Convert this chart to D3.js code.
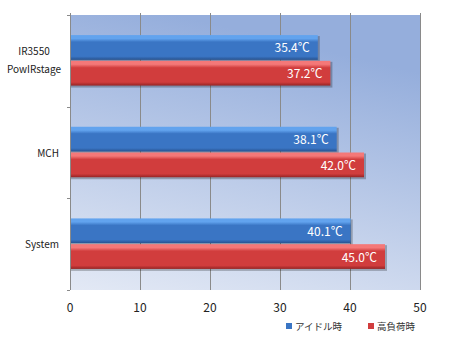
<!DOCTYPE html>
<html>
<head>
<meta charset="utf-8">
<script src="https://cdn.jsdelivr.net/npm/d3@7"></script>
<style>
  body { margin: 0; background: #fff; }
  text { font-family: "Noto Sans CJK JP", "DejaVu Sans", sans-serif; }
</style>
</head>
<body>
<script>
// data
var categories = ["IR3550\nPowIRstage", "MCH", "System"];
var seriesNames = ["アイドル時", "高負荷時"];
var idle = [35.4, 38.1, 40.1];
var load = [37.2, 42.0, 45.0];
var xTicks = [0, 10, 20, 30, 40, 50];

var width = 450, height = 345;
var plotLeft = 70, plotRight = 420, plotTop = 15, plotBottom = 290;

var svg = d3.select("body").append("svg")
    .attr("width", width)
    .attr("height", height);

var defs = svg.append("defs");

// plot background gradient
var bg = defs.append("linearGradient").attr("id", "bg")
    .attr("x1", 0.3).attr("y1", 0).attr("x2", 0).attr("y2", 1);
bg.append("stop").attr("offset", "0%").attr("stop-color", "#95aedc");
bg.append("stop").attr("offset", "100%").attr("stop-color", "#e3e9f5");

function barGrad(id, hi, mid, lo) {
	var g = defs.append("linearGradient").attr("id", id)
		.attr("x1", 0).attr("y1", 0).attr("x2", 0).attr("y2", 1);
	g.append("stop").attr("offset", "0%").attr("stop-color", hi);
	g.append("stop").attr("offset", "14%").attr("stop-color", hi);
	g.append("stop").attr("offset", "28%").attr("stop-color", mid);
	g.append("stop").attr("offset", "86%").attr("stop-color", mid);
	g.append("stop").attr("offset", "100%").attr("stop-color", lo);
}
barGrad("blueBar", "#62a3ee", "#3a75c4", "#27528f");
barGrad("redBar", "#f47878", "#d13d3d", "#962424");

var x = d3.scaleLinear().domain([0, 50]).range([plotLeft, plotRight]);
var y = d3.scaleBand().domain(categories).range([plotTop, plotBottom]).paddingInner(0).paddingOuter(0);
var sub = d3.scaleBand().domain([0, 1]).range([0, y.bandwidth()]).paddingOuter(0.78).paddingInner(0);

svg.append("rect")
	.attr("x", plotLeft).attr("y", plotTop)
	.attr("width", plotRight - plotLeft).attr("height", plotBottom - plotTop)
	.attr("fill", "url(#bg)");

// vertical gridlines
svg.selectAll("line.grid")
	.data(xTicks)
	.enter()
	.append("line")
	.attr("class", "grid")
	.attr("x1", function(d) { return x(d) + 0.5; })
	.attr("x2", function(d) { return x(d) + 0.5; })
	.attr("y1", plotTop - 2).attr("y2", plotBottom)
	.attr("stroke", "#8a8a8a")
	.attr("stroke-width", 1);

// left axis ticks at category boundaries
var bounds = categories.map(function(c) { return y(c); }).concat([plotBottom]);
svg.selectAll("line.ytick")
	.data(bounds)
	.enter()
	.append("line")
	.attr("class", "ytick")
	.attr("x1", plotLeft - 3).attr("x2", plotLeft)
	.attr("y1", function(d) { return Math.round(d) + 0.5; })
	.attr("y2", function(d) { return Math.round(d) + 0.5; })
	.attr("stroke", "#8a8a8a");

// x axis labels
svg.selectAll("text.xlab")
	.data(xTicks)
	.enter()
	.append("text")
	.attr("class", "xlab")
	.attr("x", function(d) { return x(d); })
	.attr("y", 312)
	.attr("text-anchor", "middle")
	.attr("font-size", 12)
	.attr("fill", "#222")
	.text(function(d) { return d; });

// category labels
categories.forEach(function(c) {
	var lines = c.split("\n");
	var cy = y(c) + y.bandwidth() / 2;
	var t = svg.append("text")
		.attr("font-size", 10)
		.attr("fill", "#222");
	if (lines.length > 1) {
		t.attr("text-anchor", "middle");
		lines.forEach(function(l, i) {
			t.append("tspan")
				.attr("x", 34)
				.attr("y", cy - 6 + i * 18)
				.text(l);
		});
	} else {
		t.attr("text-anchor", "end")
			.attr("x", 59)
			.attr("y", cy + 4)
			.text(c);
	}
});

// bars
var series = [idle, load];
var fills = ["url(#blueBar)", "url(#redBar)"];
series.forEach(function(vals, si) {
	var g = svg.append("g");
	g.selectAll("rect.shadow")
		.data(vals)
		.enter()
		.append("rect")
		.attr("class", "shadow")
		.attr("x", plotLeft + 1)
		.attr("y", function(d, i) { return y(categories[i]) + sub(si) + 1; })
		.attr("width", function(d) { return x(d) - plotLeft + 1; })
		.attr("height", sub.bandwidth())
		.attr("fill", "rgba(0,0,0,0.25)");
	g.selectAll("rect.bar")
		.data(vals)
		.enter()
		.append("rect")
		.attr("class", "bar")
		.attr("x", plotLeft + 1)
		.attr("y", function(d, i) { return y(categories[i]) + sub(si); })
		.attr("width", function(d) { return x(d) - plotLeft - 1; })
		.attr("height", sub.bandwidth() - 1)
		.attr("fill", fills[si]);
	g.selectAll("text.val")
		.data(vals)
		.enter()
		.append("text")
		.attr("class", "val")
		.attr("x", function(d) { return x(d) - 8; })
		.attr("y", function(d, i) { return y(categories[i]) + sub(si) + sub.bandwidth() / 2 + 4.5; })
		.attr("text-anchor", "end")
		.attr("font-size", 12)
		.attr("fill", "#fff")
		.text(function(d) { return d.toFixed(1) + "℃"; });
});

// legend
var legendX = [286, 368];
var legendColors = ["#3a75c4", "#d13d3d"];
seriesNames.forEach(function(n, i) {
	svg.append("rect")
		.attr("x", legendX[i]).attr("y", 323)
		.attr("width", 6).attr("height", 6)
		.attr("fill", legendColors[i]);
	svg.append("text")
		.attr("x", legendX[i] + 9).attr("y", 330)
		.attr("font-size", 9.5)
		.attr("fill", "#333")
		.text(n);
});
</script>
</body>
</html>
